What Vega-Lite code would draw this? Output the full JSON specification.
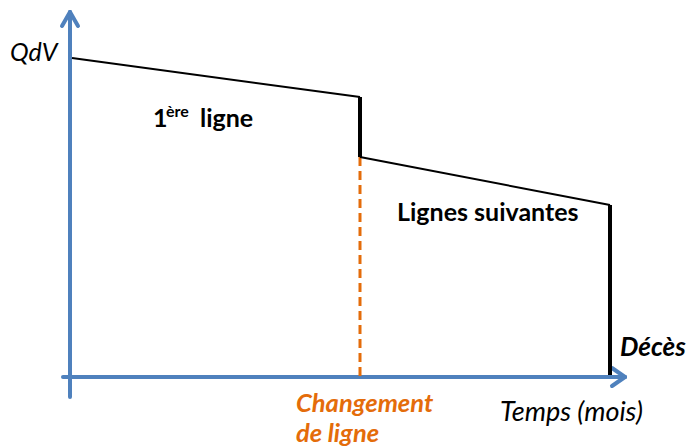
{
  "$schema": "https://vega.github.io/schema/vega-lite/v6.json",
  "width": 687,
  "height": 448,
  "padding": 0,
  "autosize": {"type": "fit", "contains": "padding"},
  "config": {"view": {"stroke": null}},
  "datasets": {
    "segs": [
      {"kind": "axis", "t1": 0, "v1": -2, "t2": 0, "v2": 36.5},
      {"kind": "axis", "t1": -0.7, "v1": 0, "t2": 55.5, "v2": 0},
      {"kind": "axis", "t1": -0.8, "v1": 35.1, "t2": 0, "v2": 36.5},
      {"kind": "axis", "t1": 0.8, "v1": 35.1, "t2": 0, "v2": 36.5},
      {"kind": "axis", "t1": 54.2, "v1": 0.9, "t2": 55.5, "v2": 0},
      {"kind": "axis", "t1": 54.2, "v1": -0.9, "t2": 55.5, "v2": 0},
      {"kind": "thin", "t1": 0.2, "v1": 31.9, "t2": 29, "v2": 28},
      {"kind": "thin", "t1": 29, "v1": 22, "t2": 54, "v2": 17.2},
      {"kind": "thick", "t1": 29, "v1": 28, "t2": 29, "v2": 22},
      {"kind": "thick", "t1": 54, "v1": 17.2, "t2": 54, "v2": 0.2},
      {"kind": "dash", "t1": 29, "v1": 22, "t2": 29, "v2": 0}
    ],
    "labels": [
      {"kind": "qdv", "label": "QdV", "t": -6, "v": 31.6},
      {"kind": "bold", "label": "1", "t": 8.3, "v": 25.0},
      {"kind": "sup", "label": "ère", "t": 9.6, "v": 26.0},
      {"kind": "bold", "label": "ligne", "t": 13.0, "v": 25.0},
      {"kind": "bold", "label": "Lignes suivantes", "t": 32.7, "v": 15.6},
      {"kind": "boldit", "label": "Décès", "t": 55, "v": 2.1},
      {"kind": "orange", "label": "Changement", "t": 22.6, "v": -3.5},
      {"kind": "orange", "label": "de ligne", "t": 22.6, "v": -6.5},
      {"kind": "it", "label": "Temps (mois)", "t": 43, "v": -4.4}
    ]
  },
  "encoding": {},
  "layer": [
    {
      "data": {"name": "segs"},
      "transform": [{"filter": "datum.kind === 'axis'"}],
      "mark": {"type": "rule", "color": "#4f81bd", "strokeWidth": 4, "strokeCap": "round"},
      "encoding": {
        "x": {"field": "t1", "type": "quantitative", "scale": {"domain": [-7, 61.7], "nice": false, "zero": false}, "axis": null},
        "y": {"field": "v1", "type": "quantitative", "scale": {"domain": [-7.1, 37.7], "nice": false, "zero": false}, "axis": null},
        "x2": {"field": "t2"},
        "y2": {"field": "v2"}
      }
    },
    {
      "data": {"name": "segs"},
      "transform": [{"filter": "datum.kind === 'dash'"}],
      "mark": {"type": "rule", "color": "#e46c0a", "strokeWidth": 3, "strokeDash": [9, 5]},
      "encoding": {
        "x": {"field": "t1", "type": "quantitative", "scale": {"domain": [-7, 61.7], "nice": false, "zero": false}, "axis": null},
        "y": {"field": "v1", "type": "quantitative", "scale": {"domain": [-7.1, 37.7], "nice": false, "zero": false}, "axis": null},
        "x2": {"field": "t2"},
        "y2": {"field": "v2"}
      }
    },
    {
      "data": {"name": "segs"},
      "transform": [{"filter": "datum.kind === 'thin'"}],
      "mark": {"type": "rule", "color": "#000000", "strokeWidth": 2},
      "encoding": {
        "x": {"field": "t1", "type": "quantitative", "scale": {"domain": [-7, 61.7], "nice": false, "zero": false}, "axis": null},
        "y": {"field": "v1", "type": "quantitative", "scale": {"domain": [-7.1, 37.7], "nice": false, "zero": false}, "axis": null},
        "x2": {"field": "t2"},
        "y2": {"field": "v2"}
      }
    },
    {
      "data": {"name": "segs"},
      "transform": [{"filter": "datum.kind === 'thick'"}],
      "mark": {"type": "rule", "color": "#000000", "strokeWidth": 4},
      "encoding": {
        "x": {"field": "t1", "type": "quantitative", "scale": {"domain": [-7, 61.7], "nice": false, "zero": false}, "axis": null},
        "y": {"field": "v1", "type": "quantitative", "scale": {"domain": [-7.1, 37.7], "nice": false, "zero": false}, "axis": null},
        "x2": {"field": "t2"},
        "y2": {"field": "v2"}
      }
    },
    {
      "data": {"name": "labels"},
      "transform": [{"filter": "datum.kind === 'qdv'"}],
      "mark": {"type": "text", "font": "Lato", "fontSize": 25, "fontStyle": "italic", "align": "left", "baseline": "alphabetic", "color": "#000000"},
      "encoding": {
        "x": {"field": "t", "type": "quantitative", "scale": {"domain": [-7, 61.7], "nice": false, "zero": false}, "axis": null},
        "y": {"field": "v", "type": "quantitative", "scale": {"domain": [-7.1, 37.7], "nice": false, "zero": false}, "axis": null},
        "text": {"field": "label"}
      }
    },
    {
      "data": {"name": "labels"},
      "transform": [{"filter": "datum.kind === 'bold'"}],
      "mark": {"type": "text", "font": "Lato", "fontSize": 25, "fontWeight": "bold", "align": "left", "baseline": "alphabetic", "color": "#000000"},
      "encoding": {
        "x": {"field": "t", "type": "quantitative", "scale": {"domain": [-7, 61.7], "nice": false, "zero": false}, "axis": null},
        "y": {"field": "v", "type": "quantitative", "scale": {"domain": [-7.1, 37.7], "nice": false, "zero": false}, "axis": null},
        "text": {"field": "label"}
      }
    },
    {
      "data": {"name": "labels"},
      "transform": [{"filter": "datum.kind === 'sup'"}],
      "mark": {"type": "text", "font": "Lato", "fontSize": 16, "fontWeight": "bold", "align": "left", "baseline": "alphabetic", "color": "#000000"},
      "encoding": {
        "x": {"field": "t", "type": "quantitative", "scale": {"domain": [-7, 61.7], "nice": false, "zero": false}, "axis": null},
        "y": {"field": "v", "type": "quantitative", "scale": {"domain": [-7.1, 37.7], "nice": false, "zero": false}, "axis": null},
        "text": {"field": "label"}
      }
    },
    {
      "data": {"name": "labels"},
      "transform": [{"filter": "datum.kind === 'boldit'"}],
      "mark": {"type": "text", "font": "Lato", "fontSize": 26, "fontWeight": "bold", "fontStyle": "italic", "align": "left", "baseline": "alphabetic", "color": "#000000"},
      "encoding": {
        "x": {"field": "t", "type": "quantitative", "scale": {"domain": [-7, 61.7], "nice": false, "zero": false}, "axis": null},
        "y": {"field": "v", "type": "quantitative", "scale": {"domain": [-7.1, 37.7], "nice": false, "zero": false}, "axis": null},
        "text": {"field": "label"}
      }
    },
    {
      "data": {"name": "labels"},
      "transform": [{"filter": "datum.kind === 'orange'"}],
      "mark": {"type": "text", "font": "Lato", "fontSize": 25.5, "fontWeight": "bold", "fontStyle": "italic", "align": "left", "baseline": "alphabetic", "color": "#e46c0a"},
      "encoding": {
        "x": {"field": "t", "type": "quantitative", "scale": {"domain": [-7, 61.7], "nice": false, "zero": false}, "axis": null},
        "y": {"field": "v", "type": "quantitative", "scale": {"domain": [-7.1, 37.7], "nice": false, "zero": false}, "axis": null},
        "text": {"field": "label"}
      }
    },
    {
      "data": {"name": "labels"},
      "transform": [{"filter": "datum.kind === 'it'"}],
      "mark": {"type": "text", "font": "Lato", "fontSize": 27, "fontStyle": "italic", "align": "left", "baseline": "alphabetic", "color": "#000000"},
      "encoding": {
        "x": {"field": "t", "type": "quantitative", "scale": {"domain": [-7, 61.7], "nice": false, "zero": false}, "axis": null},
        "y": {"field": "v", "type": "quantitative", "scale": {"domain": [-7.1, 37.7], "nice": false, "zero": false}, "axis": null},
        "text": {"field": "label"}
      }
    }
  ]
}
